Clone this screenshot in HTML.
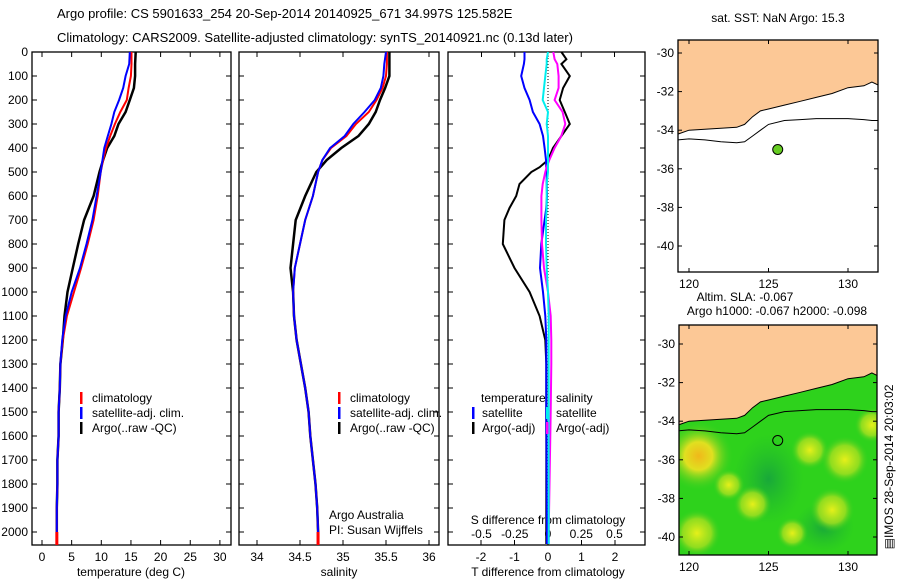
<!DOCTYPE html>
<html><head><meta charset="utf-8"><style>
body{margin:0;background:#fff;}
svg{display:block;font-family:"Liberation Sans",sans-serif;}
text{font-size:12px;fill:#000;}
</style></head><body>
<svg id="c" width="900" height="580" viewBox="0 0 900 580">
<defs>
<radialGradient id="gy" cx="50%" cy="50%" r="50%"><stop offset="0" stop-color="#e6f01a"/><stop offset="0.6" stop-color="#a8e020" stop-opacity="0.8"/><stop offset="1" stop-color="#33cc22" stop-opacity="0"/></radialGradient>
<radialGradient id="go" cx="50%" cy="50%" r="50%"><stop offset="0" stop-color="#f0b81a"/><stop offset="0.4" stop-color="#e0e020"/><stop offset="1" stop-color="#33cc22" stop-opacity="0"/></radialGradient>
<radialGradient id="gd" cx="50%" cy="50%" r="50%"><stop offset="0" stop-color="#18a83a"/><stop offset="1" stop-color="#22bb2a" stop-opacity="0"/></radialGradient>
<clipPath id="m1"><rect x="678" y="40" width="200" height="232"/></clipPath>
<clipPath id="m2"><rect x="679" y="325" width="198" height="230"/></clipPath>
</defs>
<text x="57" y="18" style="font-size:13px">Argo profile: CS 5901633_254 20-Sep-2014 20140925_671 34.997S 125.582E</text>
<text x="57" y="42" style="font-size:13px">Climatology: CARS2009. Satellite-adjusted climatology: synTS_20140921.nc (0.13d later)</text>
<g id="g"></g>
</svg>
<script>
const depths=[0,50,100,150,200,250,300,350,400,450,500,600,700,800,900,1000,1100,1200,1300,1400,1500,1600,1700,1800,1900,2000,2050];
const tempClim=[15.1,15.1,15.0,14.6,14.3,13.2,12.3,11.5,10.8,10.3,9.9,9.4,8.7,7.7,6.6,5.4,4.2,3.5,3.1,3.0,2.8,2.8,2.6,2.6,2.5,2.5,2.5];
const tempSat=[14.8,14.7,14.1,13.7,13.0,12.2,11.7,11.1,10.5,10.2,9.9,9.2,8.5,7.5,6.4,5.0,4.0,3.4,3.1,3.0,2.8,2.8,2.6,2.6,2.5,2.5,2.5];
const tempArgo=[15.8,15.7,15.7,15.5,14.8,14.1,12.9,12.2,11.0,10.3,9.7,8.7,7.1,6.1,5.2,4.3,3.8,3.5,3.1,3.0,2.8,2.8,2.6,2.6,2.5,2.5,2.5];
const salClim=[35.51,35.51,35.5,35.46,35.39,35.30,35.15,35.04,34.86,34.76,34.71,34.65,34.56,34.50,34.44,34.42,34.43,34.46,34.51,34.56,34.60,34.62,34.65,34.68,34.70,34.71,34.71];
const salSat=[35.50,35.48,35.47,35.44,35.37,35.25,35.12,35.02,34.85,34.76,34.71,34.65,34.56,34.50,34.44,34.42,34.43,34.46,34.51,34.56,34.60,34.62,34.65,34.68,34.70,34.71,34.71];
const salArgo=[35.54,35.54,35.54,35.49,35.43,35.38,35.30,35.18,34.98,34.81,34.69,34.56,34.45,34.42,34.39,34.42,34.43,34.46,34.51,34.56,34.60,34.62,34.65,34.68,34.70,34.71,34.71];
const diffDepths=[0,30,50,100,150,200,250,300,350,400,450,480,500,550,600,650,700,800,900,1000,1100,1200,1300,1500,2000,2050];
const dTsat=[-0.7,-0.7,-0.72,-0.8,-0.7,-0.55,-0.45,-0.25,-0.15,-0.1,-0.06,-0.05,-0.04,-0.04,-0.03,-0.05,-0.1,-0.2,-0.24,-0.15,-0.08,-0.05,-0.05,-0.05,-0.03,-0.03];
const dTargo=[0.4,0.55,0.4,0.65,0.45,0.35,0.5,0.65,0.4,0.15,0.0,-0.25,-0.5,-0.85,-0.95,-1.15,-1.3,-1.35,-1.0,-0.55,-0.25,-0.08,-0.05,-0.05,-0.05,-0.05];
const dSsat=[0,-0.01,-0.01,-0.02,-0.03,-0.04,0,-0.01,0,0,0,0,0,-0.01,-0.01,-0.01,-0.015,-0.015,-0.01,0,0.005,0.005,0.005,0.005,0.005,0.005];
const dSargo=[0.04,0.05,0.07,0.08,0.08,0.05,0.11,0.13,0.1,0.05,0.01,-0.01,-0.02,-0.04,-0.05,-0.05,-0.05,-0.045,-0.03,0.0,0.02,0.025,0.025,0.02,0.005,0.005];
const depthTicks=[0,100,200,300,400,500,600,700,800,900,1000,1100,1200,1300,1400,1500,1600,1700,1800,1900,2000];
const tempTicks=[0,5,10,15,20,25,30];
const salTicks=[34,34.5,35,35.5,36];
const dTTicks=[-2,-1,0,1,2];
const dSTicks=[-0.5,-0.25,0,0.25,0.5];
const latTicks=[-30,-32,-34,-36,-38,-40];
const lonTicks=[120,125,130];
const coastLon=[119.3,120,121,122,123,123.5,124,124.5,125,126,127,128,129,130,131,131.5,132];
const coastLat=[-34.2,-34.0,-33.95,-33.9,-33.85,-33.7,-33.3,-33.0,-32.9,-32.7,-32.5,-32.3,-32.1,-31.8,-31.7,-31.5,-31.7];
const c2Lat=[-34.5,-34.45,-34.5,-34.6,-34.65,-34.6,-34.3,-34.0,-33.7,-33.5,-33.45,-33.4,-33.4,-33.4,-33.45,-33.5,-33.5];
const argoLon=125.58, argoLat=-35.0;
const blobLon=[120.6,127.6,129.8,131.5,120.5,126.5,124.0,129.0,122.5];
const blobLat=[-35.8,-35.5,-36.0,-34.2,-39.8,-39.8,-38.3,-38.6,-37.3];
const blobR=[2.2,1.2,1.5,1.1,1.5,1.0,1.2,1.4,1.0];

const NS='http://www.w3.org/2000/svg';
const G=document.getElementById('g');
const PB=545;
function el(t,a,p){const e=document.createElementNS(NS,t);for(const k in a)e.setAttribute(k,a[k]);(p||G).appendChild(e);return e;}
const yD=d=>52+d*0.24;
const xT=t=>42+t*5.93, xS=s=>257+(s-34)*86, xDT=v=>548+v*33.5, xDS=v=>548+v*133;
const xL=lon=>689+(lon-120)*15.9;
const yL1=lat=>53+(-30-lat)*19.3, yL2=lat=>344+(-30-lat)*19.3;

function panel(x0,x1,name){
  const r=el('rect',{x:x0,y:52,width:x1-x0,height:PB-52,fill:'none',stroke:'#000','stroke-width':1.3});
  
  
  depthTicks.forEach(d=>{el('line',{x1:x0,x2:x0+5,y1:yD(d),y2:yD(d),stroke:'#000'});el('line',{x1:x1,x2:x1-5,y1:yD(d),y2:yD(d),stroke:'#000'});});
}
function line(xs,ys,fx,color,name,w){
  const p=xs.map((v,i)=>fx(v).toFixed(1)+','+Math.min(PB,yD(ys[i])).toFixed(1)).join(' ');
  const e=el('polyline',{points:p,fill:'none',stroke:color,'stroke-width':w||2});
  
  
}
function txt(x,y,s,anchor,name,extra){
  const e=el('text',Object.assign({x:x,y:y,'text-anchor':anchor||'start'},extra||{}));e.textContent=s;
  
  
  return e;
}
// panel 1
panel(32,231,'temperature-panel');
depthTicks.forEach(d=>txt(28,yD(d)+4,String(d),'end','depth-tick-label'));
tempTicks.forEach(t=>{el('line',{x1:xT(t),x2:xT(t),y1:PB,y2:PB-5,stroke:'#000'});el('line',{x1:xT(t),x2:xT(t),y1:52,y2:57,stroke:'#000'});txt(xT(t),561,String(t),'middle','temperature-tick-label');});
txt(131,576,'temperature (deg C)','middle','temperature-axis-title');
line(tempArgo,depths,xT,'#000','temp-argo-line',2.5);
line(tempClim,depths,xT,'#f00','temp-climatology-line');
line(tempSat,depths,xT,'#00f','temp-satellite-line');
el('rect',{x:xT(2.5)-1.5,y:yD(2000),width:3,height:PB-yD(2000),fill:'#f00'});
// panel 2
panel(239,439,'salinity-panel');
salTicks.forEach(s=>{el('line',{x1:xS(s),x2:xS(s),y1:PB,y2:PB-5,stroke:'#000'});el('line',{x1:xS(s),x2:xS(s),y1:52,y2:57,stroke:'#000'});txt(xS(s),561,String(s),'middle','salinity-tick-label');});
txt(339,576,'salinity','middle','salinity-axis-title');
line(salArgo,depths,xS,'#000','sal-argo-line',2.5);
line(salClim,depths,xS,'#f00','sal-climatology-line');
line(salSat,depths,xS,'#00f','sal-satellite-line');
el('rect',{x:xS(34.71)-1.5,y:yD(2000),width:3,height:PB-yD(2000),fill:'#f00'});
txt(329,519,'Argo Australia','start','credit-line-1');
txt(329,534,'PI: Susan Wijffels','start','credit-line-2');
// legends
function legend(x,name){
  [['#f00','climatology'],['#00f','satellite-adj. clim.'],['#000','Argo(..raw -QC)']].forEach((l,i)=>{
    el('rect',{x:x,y:392+i*15,width:2.5,height:12,fill:l[0]});
    txt(x+12,402+i*15,l[1],'start',name+'-entry');
  });
}
legend(80,'temp-legend');legend(338,'sal-legend');
// panel 3
panel(448,645,'difference-panel');
dTTicks.forEach(v=>{el('line',{x1:xDT(v),x2:xDT(v),y1:PB,y2:PB-5,stroke:'#000'});txt(xDT(v),561,String(v),'middle','t-diff-tick-label');});
dSTicks.forEach(v=>{el('line',{x1:xDS(v),x2:xDS(v),y1:52,y2:57,stroke:'#000'});txt(xDS(v),538,String(v),'middle','s-diff-tick-label');});
txt(548,524,'S difference from climatology','middle','s-diff-axis-title');
txt(548,576,'T difference from climatology','middle','t-diff-axis-title');
el('line',{x1:548,x2:548,y1:52,y2:PB,stroke:'#000','stroke-dasharray':'1,2'});
line(dTargo,diffDepths,xDT,'#000','t-diff-argo-line');
line(dTsat,diffDepths,xDT,'#00f','t-diff-satellite-line');
line(dSargo,diffDepths,xDS,'#f0f','s-diff-argo-line');
line(dSsat,diffDepths,xDS,'#0ee','s-diff-satellite-line');
txt(481,402,'temperature','start','diff-legend-temperature-header');
txt(556,402,'salinity','start','diff-legend-salinity-header');
[['#00f','satellite',472],['#000','Argo(-adj)',472],['#0ee','satellite',546],['#f0f','Argo(-adj)',546]].forEach((l,i)=>{
  const row=i%2;el('rect',{x:l[2],y:407+row*15,width:2.5,height:12,fill:l[0]});
  txt(l[2]+10,417+row*15,l[1],'start','diff-legend-entry');
});
// maps
function coastPath(fy){let d='M'+xL(coastLon[0])+','+fy(-20);coastLon.forEach((lo,i)=>d+=' L'+xL(lo).toFixed(1)+','+fy(coastLat[i]).toFixed(1));d+=' L'+xL(133)+','+fy(-31.7)+' L'+xL(133)+','+fy(-20)+'Z';return d;}
function contour(fy,name){const p=coastLon.map((lo,i)=>xL(lo).toFixed(1)+','+fy(c2Lat[i]).toFixed(1)).join(' ');const e=el('polyline',{points:p,fill:'none',stroke:'#000','stroke-width':1});return e;}
function mapAxes(x0,y0,w,h,fy,name){
  latTicks.forEach(l=>{el('line',{x1:x0,x2:x0+4,y1:fy(l),y2:fy(l),stroke:'#000'});el('line',{x1:x0+w,x2:x0+w-4,y1:fy(l),y2:fy(l),stroke:'#000'});txt(x0-4,fy(l)+4,String(l),'end',name+'-lat-label');});
  lonTicks.forEach(l=>{el('line',{x1:xL(l),x2:xL(l),y1:y0+h,y2:y0+h-4,stroke:'#000'});el('line',{x1:xL(l),x2:xL(l),y1:y0,y2:y0+4,stroke:'#000'});txt(xL(l),y0+h+16,String(l),'middle',name+'-lon-label');});
  const r=el('rect',{x:x0,y:y0,width:w,height:h,fill:'none',stroke:'#000','stroke-width':1.3});
  
  
}
const g1=el('g',{'clip-path':'url(#m1)'});
el('rect',{x:678,y:40,width:200,height:232,fill:'#fff'},g1);
el('path',{d:coastPath(yL1),fill:'#fcc896',stroke:'#000','stroke-width':1},g1);
contour(yL1,'sst-map-contour');g1.appendChild(G.lastChild);
const dot=el('circle',{cx:xL(argoLon),cy:yL1(argoLat),r:5,fill:'#66cc22',stroke:'#000'},g1);


mapAxes(678,40,200,232,yL1,'sst-map');
txt(778,22,'sat. SST: NaN Argo: 15.3','middle','sst-map-title');
const g2=el('g',{'clip-path':'url(#m2)'});
el('rect',{x:679,y:325,width:198,height:230,fill:'#2ed21c'},g2);
el('ellipse',{cx:xL(125),cy:yL2(-37),rx:35,ry:45,fill:'url(#gd)'},g2);
el('ellipse',{cx:xL(128.5),cy:yL2(-39.5),rx:30,ry:25,fill:'url(#gd)'},g2);
blobLon.forEach((lo,i)=>{const e=el('circle',{cx:xL(lo),cy:yL2(blobLat[i]),r:blobR[i]*15.9,fill:i==0?'url(#go)':'url(#gy)'},g2);
  
  });
el('path',{d:coastPath(yL2),fill:'#fcc896',stroke:'#000','stroke-width':1},g2);
contour(yL2,'sla-map-contour');g2.appendChild(G.lastChild);
const dot2=el('circle',{cx:xL(argoLon),cy:yL2(argoLat),r:5,fill:'none',stroke:'#000'},g2);


mapAxes(679,325,198,230,yL2,'sla-map');
txt(745,301,'Altim. SLA: -0.067','middle','sla-map-title-1');
txt(777,315,'Argo h1000: -0.067 h2000: -0.098','middle','sla-map-title-2');
txt(0,0,'\u25A4IMOS 28-Sep-2014 20:03:02','middle','timestamp',{transform:'translate(893,467) rotate(-90)'});
</script>
</body></html>
